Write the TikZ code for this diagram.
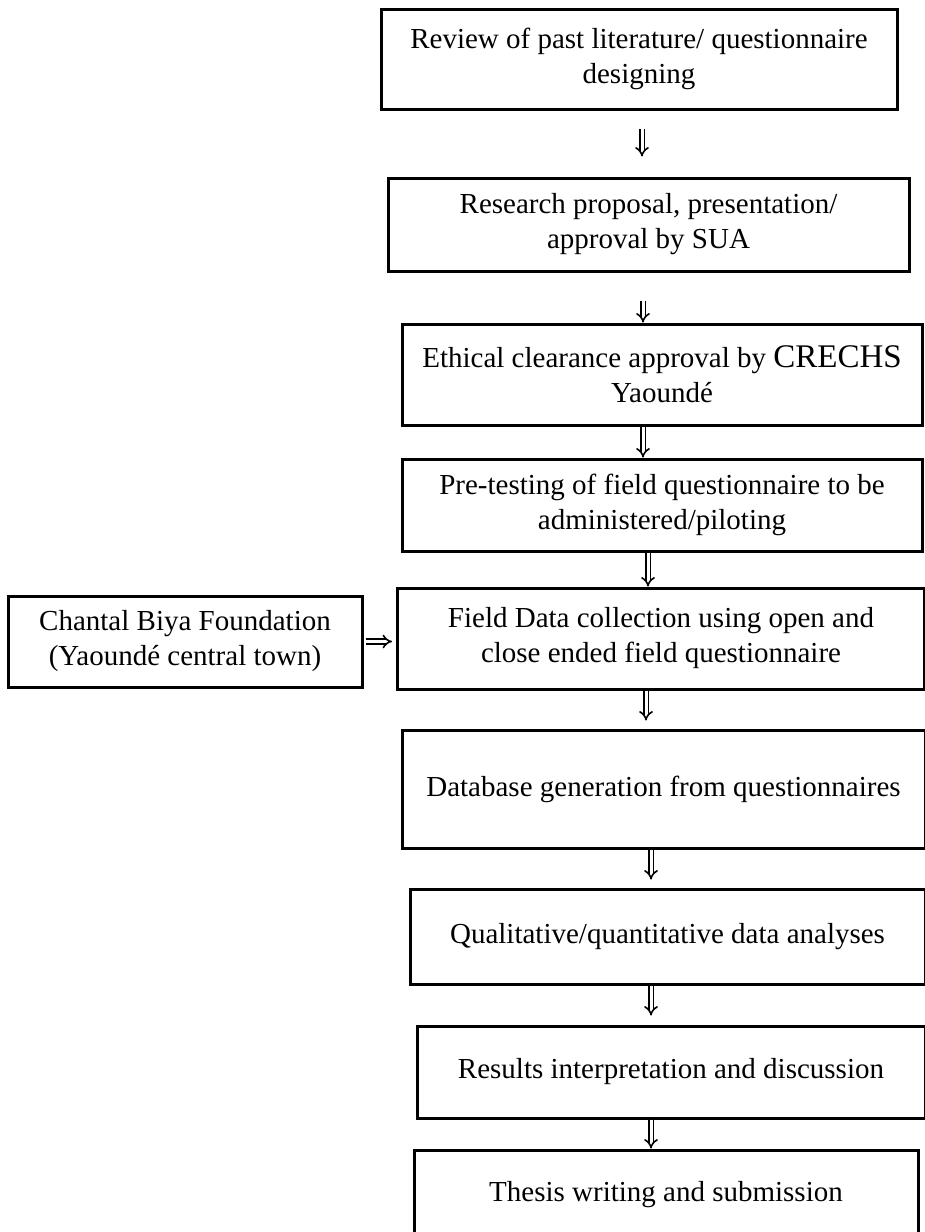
\documentclass[tikz,border=0pt]{standalone}
\usepackage{fontspec}
\setmainfont{Liberation Serif}
\usetikzlibrary{arrows.meta}

\begin{document}
\begin{tikzpicture}[x=1pt,y=-1pt,
	stepbox/.style={draw, line width=3pt, align=center, inner sep=0pt,
		font=\fontsize{29}{35}\selectfont},
	flowarrow/.style={double, double distance=3pt, line width=1.6pt, -{Implies}}]
			\useasboundingbox (0,0) rectangle (925,1232);
			% main chain of steps
			\node[stepbox, minimum width=516, minimum height=100] (review) at (639,59)
				{Review of past literature/ questionnaire\\designing};
			\node[stepbox, minimum width=521, minimum height=93] (proposal) at (648.5,224.5)
				{Research proposal, presentation/\\approval by SUA};
			\node[stepbox, minimum width=520, minimum height=101] (ethics) at (662,374.5)
				{Ethical clearance approval by {\fontsize{33}{35}\selectfont CRECHS}\\Yaoundé};
			\node[stepbox, minimum width=520, minimum height=92] (pretest) at (662,505)
				{Pre-testing of field questionnaire to be\\administered/piloting};
			\node[stepbox, minimum width=527, minimum height=101] (field) at (661,638.5)
				{Field Data collection using open and\\close ended field questionnaire};
			\node[stepbox, minimum width=523, minimum height=118] (database) at (663.5,789)
				{Database generation from questionnaires};
			\node[stepbox, minimum width=515, minimum height=95] (analyses) at (667.5,936.5)
				{Qualitative/quantitative data analyses};
			\node[stepbox, minimum width=508, minimum height=92] (results) at (671,1072)
				{Results interpretation and discussion};
			\node[stepbox, minimum width=504, minimum height=90] (thesis) at (666,1195)
				{Thesis writing and submission};
			% study site
			\node[stepbox, minimum width=354, minimum height=91] (site) at (185,641.5)
				{Chantal Biya Foundation\\(Yaoundé central town)};
			% arrows
			\draw[flowarrow, shorten <=18pt, shorten >=20pt] ([xshift=3pt]review.south) -- ([xshift=3pt]review.south |- proposal.north);
			\draw[flowarrow, shorten <=28pt] ([xshift=-5.5pt]proposal.south) -- ([xshift=-5.5pt]proposal.south |- ethics.north);
			\draw[flowarrow] ([xshift=-19pt]ethics.south) -- ([xshift=-19pt]ethics.south |- pretest.north);
			\draw[flowarrow] ([xshift=-14pt]pretest.south) -- ([xshift=-14pt]pretest.south |- field.north);
			\draw[flowarrow, shorten >=8pt] ([xshift=-15pt]field.south) -- ([xshift=-15pt]field.south |- database.north);
			\draw[flowarrow, shorten >=8pt] ([xshift=-12.5pt]database.south) -- ([xshift=-12.5pt]database.south |- analyses.north);
			\draw[flowarrow, shorten >=9pt] ([xshift=-16.5pt]analyses.south) -- ([xshift=-16.5pt]analyses.south |- results.north);
			\draw[flowarrow] ([xshift=-20pt]results.south) -- ([xshift=-20pt]results.south |- thesis.north);
			\draw[flowarrow, shorten <=2pt, shorten >=4pt] (site.east) -- (site.east -| field.west);
		\end{tikzpicture}
\end{document}
